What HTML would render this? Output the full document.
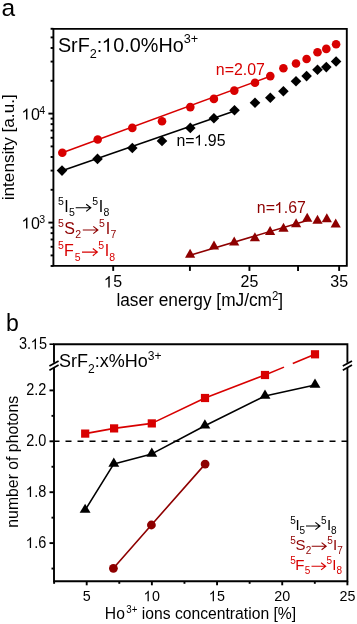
<!DOCTYPE html>
<html><head><meta charset="utf-8"><style>
html,body{margin:0;padding:0;background:#fff;}
svg{display:block;font-family:"Liberation Sans", sans-serif;will-change:transform;}
</style></head><body>
<svg width="357" height="624" viewBox="0 0 357 624" xmlns="http://www.w3.org/2000/svg">
<rect width="357" height="624" fill="#fff"/>
<path d="M53.4 28.9H346.8V265.9H53.4Z" fill="none" stroke="#000" stroke-width="1.9"/>
<line x1="50.6" y1="265.98" x2="53.4" y2="265.98" stroke="#000" stroke-width="1.9"/>
<line x1="50.6" y1="255.41" x2="53.4" y2="255.41" stroke="#000" stroke-width="1.9"/>
<line x1="50.6" y1="246.78" x2="53.4" y2="246.78" stroke="#000" stroke-width="1.9"/>
<line x1="50.6" y1="239.48" x2="53.4" y2="239.48" stroke="#000" stroke-width="1.9"/>
<line x1="50.6" y1="233.16" x2="53.4" y2="233.16" stroke="#000" stroke-width="1.9"/>
<line x1="50.6" y1="227.59" x2="53.4" y2="227.59" stroke="#000" stroke-width="1.9"/>
<line x1="48.4" y1="222.6" x2="53.4" y2="222.6" stroke="#000" stroke-width="1.9"/>
<line x1="50.6" y1="189.79" x2="53.4" y2="189.79" stroke="#000" stroke-width="1.9"/>
<line x1="50.6" y1="170.59" x2="53.4" y2="170.59" stroke="#000" stroke-width="1.9"/>
<line x1="50.6" y1="156.98" x2="53.4" y2="156.98" stroke="#000" stroke-width="1.9"/>
<line x1="50.6" y1="146.41" x2="53.4" y2="146.41" stroke="#000" stroke-width="1.9"/>
<line x1="50.6" y1="137.78" x2="53.4" y2="137.78" stroke="#000" stroke-width="1.9"/>
<line x1="50.6" y1="130.48" x2="53.4" y2="130.48" stroke="#000" stroke-width="1.9"/>
<line x1="50.6" y1="124.16" x2="53.4" y2="124.16" stroke="#000" stroke-width="1.9"/>
<line x1="50.6" y1="118.59" x2="53.4" y2="118.59" stroke="#000" stroke-width="1.9"/>
<line x1="48.4" y1="113.6" x2="53.4" y2="113.6" stroke="#000" stroke-width="1.9"/>
<line x1="50.6" y1="80.79" x2="53.4" y2="80.79" stroke="#000" stroke-width="1.9"/>
<line x1="50.6" y1="61.59" x2="53.4" y2="61.59" stroke="#000" stroke-width="1.9"/>
<line x1="50.6" y1="47.98" x2="53.4" y2="47.98" stroke="#000" stroke-width="1.9"/>
<line x1="50.6" y1="37.41" x2="53.4" y2="37.41" stroke="#000" stroke-width="1.9"/>
<line x1="50.6" y1="28.78" x2="53.4" y2="28.78" stroke="#000" stroke-width="1.9"/>
<line x1="113.2" y1="265.9" x2="113.2" y2="270.9" stroke="#000" stroke-width="1.9"/>
<line x1="189.91" y1="265.9" x2="189.91" y2="270.9" stroke="#000" stroke-width="1.9"/>
<line x1="249.42" y1="265.9" x2="249.42" y2="270.9" stroke="#000" stroke-width="1.9"/>
<line x1="298.03" y1="265.9" x2="298.03" y2="270.9" stroke="#000" stroke-width="1.9"/>
<line x1="339.14" y1="265.9" x2="339.14" y2="270.9" stroke="#000" stroke-width="1.9"/>
<text x="113.2" y="287.5" fill="#000" text-anchor="middle" transform="translate(0 287.5) scale(1 1.04) translate(0 -287.5)"><tspan dy="-0.00" font-size="16"> 5</tspan></text>
<text x="249.42" y="287.5" fill="#000" text-anchor="middle" transform="translate(0 287.5) scale(1 1.04) translate(0 -287.5)"><tspan dy="-0.00" font-size="16">25</tspan></text>
<text x="339.14" y="287.5" fill="#000" text-anchor="middle" transform="translate(0 287.5) scale(1 1.04) translate(0 -287.5)"><tspan dy="-0.00" font-size="16">35</tspan></text>
<text x="22.0" y="119.6" fill="#000" text-anchor="start"><tspan dy="-0.00" font-size="16"> 0</tspan><tspan dy="-5.60" dx="-0.5" font-size="10.56">4</tspan></text>
<text x="22.0" y="228.6" fill="#000" text-anchor="start"><tspan dy="-0.00" font-size="16"> 0</tspan><tspan dy="-5.60" dx="-0.5" font-size="10.56">3</tspan></text>
<text x="116.4" y="306.5" fill="#000" text-anchor="start" transform="translate(0 306.5) scale(1 1.06) translate(0 -306.5)"><tspan dy="-0.00" font-size="17.3">laser energy [mJ/cm</tspan><tspan dy="-5.90" font-size="11.42">2</tspan><tspan dy="5.90" font-size="17.3">]</tspan></text>
<text x="14.4" y="147.3" fill="#000" text-anchor="middle" transform="rotate(-90 14.4 147.3)"><tspan dy="-0.00" font-size="17.2">intensity [a.u.]</tspan></text>
<text x="1.5" y="15.8" fill="#000" text-anchor="start"><tspan dy="-0.00" font-size="24.5">a</tspan></text>
<text x="57.9" y="51.8" fill="#000" text-anchor="start"><tspan dy="-0.00" font-size="19.8">SrF</tspan><tspan dy="5.80" font-size="12.67">2</tspan><tspan dy="-5.80" font-size="19.8">: 0.0%Ho</tspan><tspan dy="-8.60" font-size="12.67">3+</tspan></text>
<line x1="62.3" y1="152.7" x2="270.3" y2="76.25999999999999" stroke="#d80000" stroke-width="1.6"/>
<line x1="62" y1="170.8" x2="234.5" y2="111.11500000000001" stroke="#000" stroke-width="1.6"/>
<line x1="190.1" y1="255.2" x2="307.2" y2="220.47985" stroke="#8e0000" stroke-width="1.6"/>
<circle cx="62.3" cy="152.7" r="4.3" fill="#d80000"/>
<circle cx="97.7" cy="139.5" r="4.3" fill="#d80000"/>
<circle cx="132.3" cy="127.9" r="4.3" fill="#d80000"/>
<circle cx="162" cy="121.3" r="4.3" fill="#d80000"/>
<circle cx="190.3" cy="107.1" r="4.3" fill="#d80000"/>
<circle cx="213.9" cy="98.9" r="4.3" fill="#d80000"/>
<circle cx="234.3" cy="90.6" r="4.3" fill="#d80000"/>
<circle cx="255" cy="82.8" r="4.3" fill="#d80000"/>
<circle cx="270.3" cy="76.1" r="4.3" fill="#d80000"/>
<circle cx="283.4" cy="68.3" r="4.3" fill="#d80000"/>
<circle cx="296" cy="63.5" r="4.3" fill="#d80000"/>
<circle cx="306.6" cy="59" r="4.3" fill="#d80000"/>
<circle cx="317.5" cy="52.2" r="4.3" fill="#d80000"/>
<circle cx="326.3" cy="48.9" r="4.3" fill="#d80000"/>
<circle cx="336.1" cy="44.2" r="4.3" fill="#d80000"/>
<path d="M56.7 170.6L62 165.29999999999998L67.3 170.6L62 175.9Z" fill="#000"/>
<path d="M92.2 158.9L97.5 153.6L102.8 158.9L97.5 164.20000000000002Z" fill="#000"/>
<path d="M127.00000000000001 148L132.3 142.7L137.60000000000002 148L132.3 153.3Z" fill="#000"/>
<path d="M156.7 141L162 135.7L167.3 141L162 146.3Z" fill="#000"/>
<path d="M185.0 127.9L190.3 122.60000000000001L195.60000000000002 127.9L190.3 133.20000000000002Z" fill="#000"/>
<path d="M208.6 118.2L213.9 112.9L219.20000000000002 118.2L213.9 123.5Z" fill="#000"/>
<path d="M229.2 110.2L234.5 104.9L239.8 110.2L234.5 115.5Z" fill="#000"/>
<path d="M249.7 102.8L255 97.5L260.3 102.8L255 108.1Z" fill="#000"/>
<path d="M265.0 97.8L270.3 92.5L275.6 97.8L270.3 103.1Z" fill="#000"/>
<path d="M278.09999999999997 91.3L283.4 86.0L288.7 91.3L283.4 96.6Z" fill="#000"/>
<path d="M290.7 81.2L296 75.9L301.3 81.2L296 86.5Z" fill="#000"/>
<path d="M301.3 76.1L306.6 70.8L311.90000000000003 76.1L306.6 81.39999999999999Z" fill="#000"/>
<path d="M312.2 69.8L317.5 64.5L322.8 69.8L317.5 75.1Z" fill="#000"/>
<path d="M321.0 67.1L326.3 61.8L331.6 67.1L326.3 72.39999999999999Z" fill="#000"/>
<path d="M330.8 61.5L336.1 56.2L341.40000000000003 61.5L336.1 66.8Z" fill="#000"/>
<path d="M185.00 257.67L190.10 248.67L195.20 257.67Z" fill="#8e0000"/>
<path d="M208.90 249.57L214.00 240.57L219.10 249.57Z" fill="#8e0000"/>
<path d="M229.10 245.57L234.20 236.57L239.30 245.57Z" fill="#8e0000"/>
<path d="M249.80 241.27L254.90 232.27L260.00 241.27Z" fill="#8e0000"/>
<path d="M265.00 234.97L270.10 225.97L275.20 234.97Z" fill="#8e0000"/>
<path d="M278.40 231.77L283.50 222.77L288.60 231.77Z" fill="#8e0000"/>
<path d="M291.00 227.17L296.10 218.17L301.20 227.17Z" fill="#8e0000"/>
<path d="M302.10 221.67L307.20 212.67L312.30 221.67Z" fill="#8e0000"/>
<path d="M312.40 223.67L317.50 214.67L322.60 223.67Z" fill="#8e0000"/>
<path d="M321.70 222.17L326.80 213.17L331.90 222.17Z" fill="#8e0000"/>
<path d="M330.60 227.47L335.70 218.47L340.80 227.47Z" fill="#8e0000"/>
<text x="215.8" y="74.7" fill="#d80000" text-anchor="start"><tspan dy="-0.00" font-size="15.9">n=2.07</tspan></text>
<text x="176.5" y="145.6" fill="#000" text-anchor="start"><tspan dy="-0.00" font-size="15.9">n= .95</tspan></text>
<text x="256.8" y="213.0" fill="#8e0000" text-anchor="start"><tspan dy="-0.00" font-size="15.9">n= .67</tspan></text>
<text x="57.88" y="204.60" font-size="10.5" fill="#000">5</text>
<text x="64.13" y="211.80" font-size="16" fill="#000">I</text>
<text x="68.88" y="215.80" font-size="10.5" fill="#000">5</text>
<text x="92.28" y="204.60" font-size="10.5" fill="#000">5</text>
<text x="98.73" y="211.80" font-size="16" fill="#000">I</text>
<text x="103.45" y="215.80" font-size="10.5" fill="#000">8</text>
<path d="M75.70 207.80H90.40M86.20 204.20L90.80 207.80L86.20 211.40" fill="none" stroke="#000" stroke-width="1.1"/>
<text x="57.88" y="226.80" font-size="10.5" fill="#8e0000">5</text>
<text x="64.16" y="233.50" font-size="16" fill="#8e0000">S</text>
<text x="75.27" y="238.00" font-size="10.5" fill="#8e0000">2</text>
<text x="99.08" y="226.80" font-size="10.5" fill="#8e0000">5</text>
<text x="105.63" y="233.50" font-size="16" fill="#8e0000">I</text>
<text x="110.46" y="238.00" font-size="10.5" fill="#8e0000">7</text>
<path d="M82.80 230.00H97.50M93.30 226.40L97.90 230.00L93.30 233.60" fill="none" stroke="#8e0000" stroke-width="1.1"/>
<text x="57.88" y="249.20" font-size="10.5" fill="#d80000">5</text>
<text x="63.89" y="255.80" font-size="16" fill="#d80000">F</text>
<text x="74.78" y="260.50" font-size="10.5" fill="#d80000">5</text>
<text x="98.28" y="249.20" font-size="10.5" fill="#d80000">5</text>
<text x="104.73" y="255.80" font-size="16" fill="#d80000">I</text>
<text x="109.15" y="260.50" font-size="10.5" fill="#d80000">8</text>
<path d="M82.00 252.10H97.00M92.80 248.50L97.40 252.10L92.80 255.70" fill="none" stroke="#d80000" stroke-width="1.1"/>
<path d="M54.0 362.8V344.2H347.4V362.8" fill="none" stroke="#000" stroke-width="1.9"/>
<path d="M54.0 368.0V581.3H347.4V368.0" fill="none" stroke="#000" stroke-width="1.9"/>
<line x1="49.4" y1="366.0" x2="58.6" y2="360.9" stroke="#000" stroke-width="1.7"/>
<line x1="49.4" y1="370.2" x2="58.6" y2="365.1" stroke="#000" stroke-width="1.7"/>
<line x1="342.79999999999995" y1="366.0" x2="352.0" y2="360.9" stroke="#000" stroke-width="1.7"/>
<line x1="342.79999999999995" y1="370.2" x2="352.0" y2="365.1" stroke="#000" stroke-width="1.7"/>
<line x1="51.5" y1="568.55" x2="54.0" y2="568.55" stroke="#000" stroke-width="1.9"/>
<line x1="49.5" y1="543.1" x2="54.0" y2="543.1" stroke="#000" stroke-width="1.9"/>
<line x1="51.5" y1="517.65" x2="54.0" y2="517.65" stroke="#000" stroke-width="1.9"/>
<line x1="49.5" y1="492.2" x2="54.0" y2="492.2" stroke="#000" stroke-width="1.9"/>
<line x1="51.5" y1="466.75" x2="54.0" y2="466.75" stroke="#000" stroke-width="1.9"/>
<line x1="49.5" y1="441.3" x2="54.0" y2="441.3" stroke="#000" stroke-width="1.9"/>
<line x1="51.5" y1="415.85" x2="54.0" y2="415.85" stroke="#000" stroke-width="1.9"/>
<line x1="49.5" y1="390.4" x2="54.0" y2="390.4" stroke="#000" stroke-width="1.9"/>
<line x1="49.5" y1="344.2" x2="54.0" y2="344.2" stroke="#000" stroke-width="1.6"/>
<line x1="54.11" y1="581.3" x2="54.11" y2="583.8" stroke="#000" stroke-width="1.9"/>
<line x1="86.7" y1="581.3" x2="86.7" y2="585.3" stroke="#000" stroke-width="1.9"/>
<line x1="119.29" y1="581.3" x2="119.29" y2="583.8" stroke="#000" stroke-width="1.9"/>
<line x1="151.88" y1="581.3" x2="151.88" y2="585.3" stroke="#000" stroke-width="1.9"/>
<line x1="184.46" y1="581.3" x2="184.46" y2="583.8" stroke="#000" stroke-width="1.9"/>
<line x1="217.05" y1="581.3" x2="217.05" y2="585.3" stroke="#000" stroke-width="1.9"/>
<line x1="249.64" y1="581.3" x2="249.64" y2="583.8" stroke="#000" stroke-width="1.9"/>
<line x1="282.23" y1="581.3" x2="282.23" y2="585.3" stroke="#000" stroke-width="1.9"/>
<line x1="314.81" y1="581.3" x2="314.81" y2="583.8" stroke="#000" stroke-width="1.9"/>
<line x1="347.4" y1="581.3" x2="347.4" y2="585.3" stroke="#000" stroke-width="1.9"/>
<text x="86.7" y="601.2" fill="#000" text-anchor="middle" transform="translate(0 601.2) scale(1 1.06) translate(0 -601.2)"><tspan dy="-0.00" font-size="14.3">5</tspan></text>
<text x="151.88" y="601.2" fill="#000" text-anchor="middle" transform="translate(0 601.2) scale(1 1.06) translate(0 -601.2)"><tspan dy="-0.00" font-size="14.3"> 0</tspan></text>
<text x="217.05" y="601.2" fill="#000" text-anchor="middle" transform="translate(0 601.2) scale(1 1.06) translate(0 -601.2)"><tspan dy="-0.00" font-size="14.3"> 5</tspan></text>
<text x="282.23" y="601.2" fill="#000" text-anchor="middle" transform="translate(0 601.2) scale(1 1.06) translate(0 -601.2)"><tspan dy="-0.00" font-size="14.3">20</tspan></text>
<text x="347.4" y="601.2" fill="#000" text-anchor="middle" transform="translate(0 601.2) scale(1 1.06) translate(0 -601.2)"><tspan dy="-0.00" font-size="14.3">25</tspan></text>
<text x="46.3" y="395.3" fill="#000" text-anchor="end" transform="translate(0 395.3) scale(1 1.08) translate(0 -395.3)"><tspan dy="-0.00" font-size="14.5">2.2</tspan></text>
<text x="46.3" y="446.2" fill="#000" text-anchor="end" transform="translate(0 446.2) scale(1 1.08) translate(0 -446.2)"><tspan dy="-0.00" font-size="14.5">2.0</tspan></text>
<text x="46.3" y="497.1" fill="#000" text-anchor="end" transform="translate(0 497.1) scale(1 1.08) translate(0 -497.1)"><tspan dy="-0.00" font-size="14.5"> .8</tspan></text>
<text x="46.3" y="548.0" fill="#000" text-anchor="end" transform="translate(0 548.0) scale(1 1.08) translate(0 -548.0)"><tspan dy="-0.00" font-size="14.5"> .6</tspan></text>
<text x="47.2" y="349.3" fill="#000" text-anchor="end" transform="translate(0 349.3) scale(1 1.08) translate(0 -349.3)"><tspan dy="-0.00" font-size="14.5">3. 5</tspan></text>
<text x="200.5" y="618.8" fill="#000" text-anchor="middle" transform="translate(0 618.8) scale(1 1.07) translate(0 -618.8)"><tspan dy="-0.00" font-size="15.7">Ho</tspan><tspan dy="-5.30" dx="1.4" font-size="9.73">3+</tspan><tspan dy="5.30" font-size="15.7"> ions concentration [%]</tspan></text>
<text x="18.3" y="461.8" fill="#000" text-anchor="middle" transform="rotate(-90 18.3 461.8)"><tspan dy="-0.00" font-size="15.8">number of photons</tspan></text>
<text x="5.9" y="331.0" fill="#000" text-anchor="start"><tspan dy="-0.00" font-size="23.0">b</tspan></text>
<text x="59.1" y="367.3" fill="#000" text-anchor="start"><tspan dy="-0.00" font-size="18.0">SrF</tspan><tspan dy="5.20" font-size="12.06">2</tspan><tspan dy="-5.20" font-size="18.0">:x%Ho</tspan><tspan dy="-7.80" font-size="12.06">3+</tspan></text>
<line x1="53.5" y1="441.2" x2="347.4" y2="441.2" stroke="#000" stroke-width="1.4" stroke-dasharray="6 6"/>
<polyline points="85.2,433.6 114.1,428.4 151.8,423.4 205.0,398.0 265.0,375.0" fill="none" stroke="#d80000" stroke-width="1.6" stroke-linejoin="round"/>
<line x1="265.0" y1="375.0" x2="284.0" y2="367.13" stroke="#d80000" stroke-width="1.6"/>
<line x1="292.8" y1="363.49" x2="315.0" y2="354.3" stroke="#d80000" stroke-width="1.6"/>
<polyline points="85.1,510.1 113.8,463.9 151.8,453.9 204.9,425.7 265.0,396.0 315.0,385.0" fill="none" stroke="#000" stroke-width="1.6" stroke-linejoin="round"/>
<polyline points="113.4,568.3 151.4,525.0 205.1,464.1" fill="none" stroke="#8e0000" stroke-width="1.6" stroke-linejoin="round"/>
<rect x="81.10" y="429.50" width="8.2" height="8.2" fill="#d80000"/>
<rect x="110.00" y="424.30" width="8.2" height="8.2" fill="#d80000"/>
<rect x="147.70" y="419.30" width="8.2" height="8.2" fill="#d80000"/>
<rect x="200.90" y="393.90" width="8.2" height="8.2" fill="#d80000"/>
<rect x="260.90" y="370.90" width="8.2" height="8.2" fill="#d80000"/>
<rect x="310.90" y="350.20" width="8.2" height="8.2" fill="#d80000"/>
<path d="M79.65 512.84L85.10 503.64L90.55 512.84Z" fill="#000"/>
<path d="M108.35 466.64L113.80 457.44L119.25 466.64Z" fill="#000"/>
<path d="M146.35 456.64L151.80 447.44L157.25 456.64Z" fill="#000"/>
<path d="M199.45 428.44L204.90 419.24L210.35 428.44Z" fill="#000"/>
<path d="M259.55 398.74L265.00 389.54L270.45 398.74Z" fill="#000"/>
<path d="M309.55 387.74L315.00 378.54L320.45 387.74Z" fill="#000"/>
<circle cx="113.4" cy="568.3" r="4.4" fill="#8e0000"/>
<circle cx="151.4" cy="525.0" r="4.4" fill="#8e0000"/>
<circle cx="205.1" cy="464.1" r="4.4" fill="#8e0000"/>
<text x="290.20" y="523.90" font-size="10" fill="#000">5</text>
<text x="295.42" y="529.80" font-size="15" fill="#000">I</text>
<text x="299.50" y="533.90" font-size="10" fill="#000">5</text>
<text x="321.00" y="523.90" font-size="10" fill="#000">5</text>
<text x="327.02" y="529.80" font-size="15" fill="#000">I</text>
<text x="331.07" y="533.90" font-size="10" fill="#000">8</text>
<path d="M306.00 526.00H319.60M315.40 522.40L320.00 526.00L315.40 529.60" fill="none" stroke="#000" stroke-width="1.1"/>
<text x="290.20" y="543.80" font-size="10" fill="#8e0000">5</text>
<text x="295.41" y="550.20" font-size="15" fill="#8e0000">S</text>
<text x="305.70" y="554.10" font-size="10" fill="#8e0000">2</text>
<text x="327.20" y="543.80" font-size="10" fill="#8e0000">5</text>
<text x="332.92" y="550.20" font-size="15" fill="#8e0000">I</text>
<text x="337.19" y="554.10" font-size="10" fill="#8e0000">7</text>
<path d="M311.70 546.20H325.80M321.60 542.60L326.20 546.20L321.60 549.80" fill="none" stroke="#8e0000" stroke-width="1.1"/>
<text x="290.20" y="563.80" font-size="10" fill="#d80000">5</text>
<text x="295.27" y="570.30" font-size="15" fill="#d80000">F</text>
<text x="304.80" y="574.30" font-size="10" fill="#d80000">5</text>
<text x="326.40" y="563.80" font-size="10" fill="#d80000">5</text>
<text x="332.32" y="570.30" font-size="15" fill="#d80000">I</text>
<text x="336.47" y="574.30" font-size="10" fill="#d80000">8</text>
<path d="M311.50 566.30H325.30M321.10 562.70L325.70 566.30L321.10 569.90" fill="none" stroke="#d80000" stroke-width="1.1"/>
<path d="M695 0L515 0L515 1098Q450 1039 344 979Q239 920 155 890L155 1057Q306 1125 419 1221Q532 1318 579 1409L695 1409Z" fill="#000" transform="translate(0 287.5) scale(1 1.04) translate(0 -287.5) translate(104.302 287.500) scale(0.007812 -0.007812)"/>
<path d="M695 0L515 0L515 1098Q450 1039 344 979Q239 920 155 890L155 1057Q306 1125 419 1221Q532 1318 579 1409L695 1409Z" fill="#000" transform="translate(22.000 119.600) scale(0.007812 -0.007812)"/>
<path d="M695 0L515 0L515 1098Q450 1039 344 979Q239 920 155 890L155 1057Q306 1125 419 1221Q532 1318 579 1409L695 1409Z" fill="#000" transform="translate(22.000 228.600) scale(0.007812 -0.007812)"/>
<path d="M695 0L515 0L515 1098Q450 1039 344 979Q239 920 155 890L155 1057Q306 1125 419 1221Q532 1318 579 1409L695 1409Z" fill="#000" transform="translate(102.306 51.800) scale(0.009668 -0.009668)"/>
<path d="M695 0L515 0L515 1098Q450 1039 344 979Q239 920 155 890L155 1057Q306 1125 419 1221Q532 1318 579 1409L695 1409Z" fill="#000" transform="translate(194.609 145.600) scale(0.007764 -0.007764)"/>
<path d="M695 0L515 0L515 1098Q450 1039 344 979Q239 920 155 890L155 1057Q306 1125 419 1221Q532 1318 579 1409L695 1409Z" fill="#8e0000" transform="translate(274.909 213.000) scale(0.007764 -0.007764)"/>
<path d="M695 0L515 0L515 1098Q450 1039 344 979Q239 920 155 890L155 1057Q306 1125 419 1221Q532 1318 579 1409L695 1409Z" fill="#000" transform="translate(0 601.2) scale(1 1.06) translate(0 -601.2) translate(143.934 601.200) scale(0.006982 -0.006982)"/>
<path d="M695 0L515 0L515 1098Q450 1039 344 979Q239 920 155 890L155 1057Q306 1125 419 1221Q532 1318 579 1409L695 1409Z" fill="#000" transform="translate(0 601.2) scale(1 1.06) translate(0 -601.2) translate(209.104 601.200) scale(0.006982 -0.006982)"/>
<path d="M695 0L515 0L515 1098Q450 1039 344 979Q239 920 155 890L155 1057Q306 1125 419 1221Q532 1318 579 1409L695 1409Z" fill="#000" transform="translate(0 497.1) scale(1 1.08) translate(0 -497.1) translate(26.153 497.100) scale(0.007080 -0.007080)"/>
<path d="M695 0L515 0L515 1098Q450 1039 344 979Q239 920 155 890L155 1057Q306 1125 419 1221Q532 1318 579 1409L695 1409Z" fill="#000" transform="translate(0 548.0) scale(1 1.08) translate(0 -548.0) translate(26.153 548.000) scale(0.007080 -0.007080)"/>
<path d="M695 0L515 0L515 1098Q450 1039 344 979Q239 920 155 890L155 1057Q306 1125 419 1221Q532 1318 579 1409L695 1409Z" fill="#000" transform="translate(0 349.3) scale(1 1.08) translate(0 -349.3) translate(31.061 349.300) scale(0.007080 -0.007080)"/>
</svg>
</body></html>
